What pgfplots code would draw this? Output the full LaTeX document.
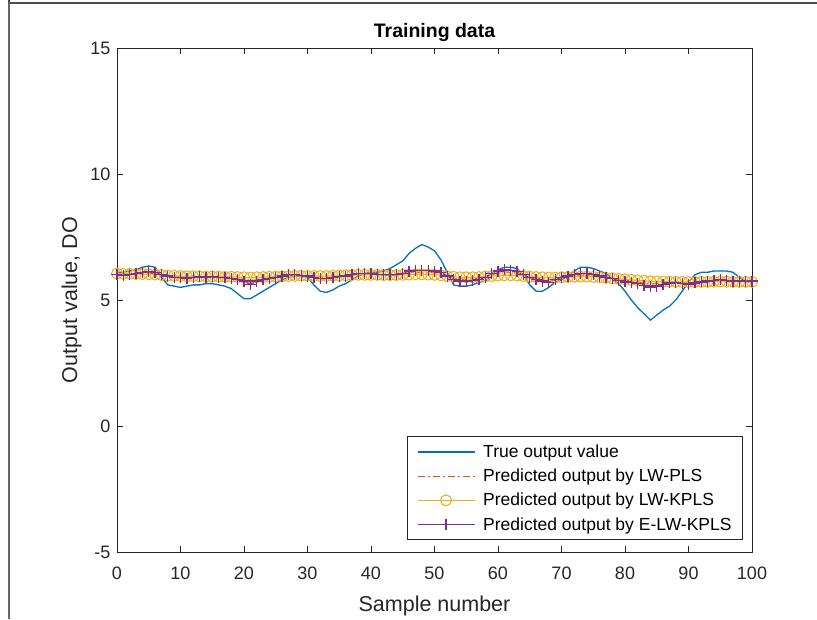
\documentclass[border=0pt]{standalone}
\usepackage{pgfplots}
\pgfplotsset{compat=1.18}
\usepackage{fontspec}
\setmainfont{Liberation Sans}
\definecolor{mblue}{rgb}{0,0.447,0.741}
\definecolor{morange}{rgb}{0.85,0.325,0.098}
\definecolor{myellow}{rgb}{0.929,0.694,0.125}
\definecolor{mpurple}{rgb}{0.494,0.184,0.556}
\definecolor{axgray}{rgb}{0.15,0.15,0.15}
\pgfplotsset{legend image code/.code={\draw[mark repeat=2,mark phase=2,#1] plot coordinates {(0pt,0pt) (28.5pt,0pt) (57pt,0pt)}; \path (63pt,0pt);}}
\begin{document}
\begin{tikzpicture}[x=1pt,y=1pt]
\useasboundingbox (0,0) rectangle (817,619);
\draw[line width=1.6pt, black!70] (9,619) -- (9,616) -- (817,616);
\draw[line width=1.2pt, black!60] (9,0) -- (9,616);
\begin{axis}[
  at={(117pt,67pt)}, anchor=south west,
  scale only axis, width=635pt, height=504pt,
  xmin=0, xmax=100, ymin=-5, ymax=15,
  xtick={0,10,...,100}, ytick={-5,0,5,10,15},
  /pgf/number format/assume math mode=true,
  tick label style={font=\fontsize{18}{21}\selectfont, text=axgray},
  xticklabel style={yshift=-11pt},
  yticklabel style={xshift=-3pt},
  label style={font=\fontsize{21.5}{24}\selectfont, text=axgray},
  xlabel style={yshift=-10pt},
  ylabel style={yshift=2pt},
  title style={font=\fontsize{19.5}{22}\selectfont\bfseries, yshift=-3pt},
  title={Training data},
  xlabel={Sample number}, ylabel={Output value, DO},
  axis line style={axgray, line width=0.8pt},
  major tick length=6pt,
  tick style={axgray, line width=0.8pt},
  legend cell align=left,
  legend style={at={(0.9858,0.0238)}, anchor=south east, draw=axgray, line width=0.8pt,
    font=\fontsize{17.5}{20}\selectfont, inner xsep=9pt, inner ysep=6pt, row sep=6pt},
]
\addplot[mblue, line width=1.3pt] coordinates {
(0,6.10)(1,6.10)(2,6.15)(3,6.20)(4,6.30)(5,6.35)(6,6.30)(7,5.90)(8,5.60)(9,5.55)
(10,5.50)(11,5.55)(12,5.60)(13,5.60)(14,5.65)(15,5.65)(16,5.60)(17,5.55)(18,5.45)(19,5.25)
(20,5.05)(21,5.05)(22,5.20)(23,5.35)(24,5.50)(25,5.65)(26,5.80)(27,5.90)(28,5.95)(29,5.95)
(30,5.90)(31,5.60)(32,5.35)(33,5.30)(34,5.40)(35,5.55)(36,5.65)(37,5.80)(38,5.95)(39,6.05)
(40,6.10)(41,6.10)(42,6.15)(43,6.25)(44,6.40)(45,6.55)(46,6.85)(47,7.05)(48,7.20)(49,7.10)
(50,6.95)(51,6.60)(52,6.10)(53,5.60)(54,5.55)(55,5.55)(56,5.60)(57,5.70)(58,5.75)(59,5.95)
(60,6.20)(61,6.30)(62,6.30)(63,6.25)(64,6.00)(65,5.60)(66,5.35)(67,5.35)(68,5.50)(69,5.70)
(70,5.80)(71,5.95)(72,6.15)(73,6.30)(74,6.30)(75,6.25)(76,6.15)(77,6.05)(78,5.85)(79,5.65)
(80,5.35)(81,5.00)(82,4.70)(83,4.45)(84,4.20)(85,4.40)(86,4.60)(87,4.75)(88,5.00)(89,5.35)
(90,5.70)(91,6.00)(92,6.10)(93,6.10)(94,6.15)(95,6.15)(96,6.15)(97,6.10)(98,5.90)(99,5.75)
(100,5.70)};
\addlegendentry{True output value}
\addplot[color=morange, line width=1.2pt, dash pattern=on 7pt off 3pt on 2pt off 3pt] coordinates {
(0,6.02)(1,6.01)(2,6.02)(3,6.04)(4,6.06)(5,6.06)(6,6.04)(7,5.99)(8,5.96)(9,5.93)
(10,5.91)(11,5.90)(12,5.91)(13,5.92)(14,5.91)(15,5.91)(16,5.90)(17,5.89)(18,5.87)(19,5.84)
(20,5.81)(21,5.76)(22,5.80)(23,5.84)(24,5.87)(25,5.90)(26,5.93)(27,5.96)(28,5.97)(29,5.96)
(30,5.94)(31,5.91)(32,5.88)(33,5.88)(34,5.90)(35,5.92)(36,5.95)(37,5.98)(38,6.01)(39,6.02)
(40,6.02)(41,6.01)(42,6.00)(43,6.00)(44,6.00)(45,6.03)(46,6.08)(47,6.10)(48,6.10)(49,6.10)
(50,6.08)(51,6.05)(52,5.96)(53,5.86)(54,5.82)(55,5.82)(56,5.84)(57,5.86)(58,5.91)(59,6.01)
(60,6.08)(61,6.11)(62,6.10)(63,6.06)(64,5.99)(65,5.91)(66,5.86)(67,5.83)(68,5.80)(69,5.84)
(70,5.88)(71,5.92)(72,5.97)(73,5.99)(74,5.99)(75,5.97)(76,5.93)(77,5.90)(78,5.86)(79,5.82)
(80,5.78)(81,5.75)(82,5.72)(83,5.68)(84,5.64)(85,5.65)(86,5.68)(87,5.71)(88,5.72)(89,5.70)
(90,5.68)(91,5.70)(92,5.72)(93,5.74)(94,5.76)(95,5.77)(96,5.76)(97,5.75)(98,5.74)(99,5.74)
(100,5.74)};
\addlegendentry{Predicted output by LW-PLS}
\addplot[color=myellow, line width=1.2pt, mark=o, mark size=5.5pt, mark options={solid, line width=1.1pt}] coordinates {
(0,6.05)(1,6.04)(2,6.04)(3,6.03)(4,6.03)(5,6.02)(6,6.01)(7,5.99)(8,5.97)(9,5.96)
(10,5.95)(11,5.94)(12,5.94)(13,5.94)(14,5.93)(15,5.93)(16,5.93)(17,5.92)(18,5.92)(19,5.91)
(20,5.90)(21,5.89)(22,5.90)(23,5.91)(24,5.92)(25,5.93)(26,5.94)(27,5.95)(28,5.96)(29,5.96)
(30,5.96)(31,5.95)(32,5.95)(33,5.95)(34,5.96)(35,5.97)(36,5.98)(37,5.99)(38,6.00)(39,6.00)
(40,6.00)(41,6.00)(42,5.99)(43,5.99)(44,5.99)(45,6.00)(46,6.01)(47,6.02)(48,6.02)(49,6.01)
(50,6.00)(51,5.98)(52,5.95)(53,5.92)(54,5.90)(55,5.90)(56,5.90)(57,5.91)(58,5.93)(59,5.95)
(60,5.97)(61,5.98)(62,5.98)(63,5.97)(64,5.95)(65,5.93)(66,5.91)(67,5.90)(68,5.89)(69,5.89)
(70,5.90)(71,5.91)(72,5.92)(73,5.93)(74,5.93)(75,5.92)(76,5.90)(77,5.88)(78,5.86)(79,5.84)
(80,5.82)(81,5.80)(82,5.78)(83,5.76)(84,5.74)(85,5.73)(86,5.73)(87,5.73)(88,5.72)(89,5.72)
(90,5.71)(91,5.71)(92,5.72)(93,5.72)(94,5.73)(95,5.73)(96,5.73)(97,5.72)(98,5.72)(99,5.72)
(100,5.72)};
\addlegendentry{Predicted output by LW-KPLS}
\addplot[color=mpurple, line width=1.4pt, mark=+, mark size=5.5pt, mark options={solid, line width=1.3pt}] coordinates {
(0,6.00)(1,5.98)(2,6.00)(3,6.05)(4,6.10)(5,6.12)(6,6.10)(7,6.00)(8,5.95)(9,5.90)
(10,5.88)(11,5.85)(12,5.90)(13,5.92)(14,5.90)(15,5.92)(16,5.90)(17,5.88)(18,5.85)(19,5.80)
(20,5.75)(21,5.62)(22,5.75)(23,5.80)(24,5.85)(25,5.90)(26,5.95)(27,6.00)(28,6.00)(29,5.98)
(30,5.95)(31,5.90)(32,5.85)(33,5.85)(34,5.90)(35,5.92)(36,5.95)(37,6.00)(38,6.05)(39,6.05)
(40,6.05)(41,6.02)(42,6.00)(43,6.00)(44,6.00)(45,6.05)(46,6.15)(47,6.18)(48,6.18)(49,6.18)
(50,6.15)(51,6.10)(52,5.95)(53,5.80)(54,5.75)(55,5.75)(56,5.78)(57,5.80)(58,5.90)(59,6.05)
(60,6.15)(61,6.20)(62,6.18)(63,6.12)(64,6.00)(65,5.88)(66,5.80)(67,5.75)(68,5.70)(69,5.80)
(70,5.88)(71,5.95)(72,6.02)(73,6.05)(74,6.05)(75,6.02)(76,5.95)(77,5.90)(78,5.85)(79,5.78)
(80,5.72)(81,5.70)(82,5.65)(83,5.58)(84,5.52)(85,5.55)(86,5.62)(87,5.68)(88,5.70)(89,5.65)
(90,5.62)(91,5.68)(92,5.72)(93,5.75)(94,5.78)(95,5.80)(96,5.78)(97,5.75)(98,5.75)(99,5.74)
(100,5.75)};
\addlegendentry{Predicted output by E-LW-KPLS}
\end{axis}
\end{tikzpicture}
\end{document}
